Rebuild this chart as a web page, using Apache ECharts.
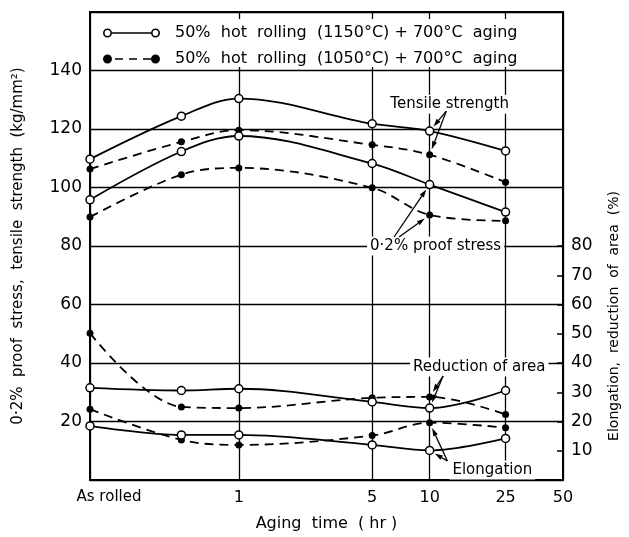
<!DOCTYPE html>
<html>
<head>
<meta charset="utf-8">
<script src="https://cdn.jsdelivr.net/npm/echarts@6/dist/echarts.min.js"></script>
<style>
  html, body { margin: 0; background: #fff; }
  #main { width: 629px; height: 537px; }
</style>
</head>
<body>
<div id="main"></div>
<script>
// aging time in hours, first point is the "As rolled" state at the left edge
const hours = [0.166, 0.5, 1, 5, 10, 25];
const xTicks = [0.166, 1, 5, 10, 25, 50];
const xTickNames = ['As rolled', '1', '5', '10', '25', '50'];
const leftTicks = [20, 40, 60, 80, 100, 120, 140];
const rightTicks = [10, 20, 30, 40, 50, 60, 70, 80];

const name1150 = '50%  hot  rolling  (1150°C) + 700°C  aging';
const name1050 = '50%  hot  rolling  (1050°C) + 700°C  aging';

// kg/mm2
const ts1150 = [109.7, 124.4, 130.4, 121.8, 119.3, 112.5];
const ts1050 = [106.3, 115.6, 119.6, 114.6, 111.2, 101.8];
const ps1150 = [95.8, 112.3, 117.6, 108.2, 101.0, 91.6];
const ps1050 = [89.9, 104.4, 106.7, 99.9, 90.6, 88.6];
// %
const ra1150 = [31.5, 30.6, 31.2, 26.7, 24.6, 30.6];
const ra1050 = [50.2, 25.0, 24.6, 28.1, 28.4, 22.4];
const el1150 = [18.5, 15.4, 15.4, 12.0, 10.1, 14.2];
const el1050 = [24.2, 13.7, 12.0, 15.2, 19.6, 17.9];

const font = 'DejaVu Sans';

let chart = echarts.init(document.getElementById('main'));

let makeLine = (name, values, open, axis) => ({
  name: name,
  type: 'line',
  yAxisIndex: axis,
  smooth: 0.35,
  data: hours.map((h, i) => [h, values[i]]),
  symbol: 'circle',
  symbolSize: open ? 8 : 7,
  itemStyle: { color: open ? '#fff' : '#000', borderColor: '#000', borderWidth: open ? 1.5 : 0 },
  lineStyle: { color: '#000', width: 1.8, type: open ? 'solid' : [9, 6] },
  z: open ? 4 : 3
});

// legend icons: o----o and *- - -*
const openIcon = 'path://M0 4.5A4.5 4.5 0 1 0 9 4.5A4.5 4.5 0 1 0 0 4.5Z' +
  'M1.6 4.5A2.9 2.9 0 1 1 7.4 4.5A2.9 2.9 0 1 1 1.6 4.5Z' +
  'M9 3.8L48 3.8L48 5.2L9 5.2Z' +
  'M48 4.5A4.5 4.5 0 1 0 57 4.5A4.5 4.5 0 1 0 48 4.5Z' +
  'M49.6 4.5A2.9 2.9 0 1 1 55.4 4.5A2.9 2.9 0 1 1 49.6 4.5Z';
const filledIcon = 'path://M0 4.5A4.5 4.5 0 1 0 9 4.5A4.5 4.5 0 1 0 0 4.5Z' +
  'M12 3.8L20 3.8L20 5.2L12 5.2Z' +
  'M26 3.8L34 3.8L34 5.2L26 5.2Z' +
  'M40 3.8L48 3.8L48 5.2L40 5.2Z' +
  'M48 4.5A4.5 4.5 0 1 0 57 4.5A4.5 4.5 0 1 0 48 4.5Z';

let option = {
  animation: false,
  backgroundColor: '#fff',
  textStyle: { fontFamily: font, color: '#000' },
  grid: { left: 90, right: 66, top: 12, bottom: 56, show: true, borderColor: '#000', borderWidth: 2 },
  legend: {
    orient: 'vertical',
    left: 93,
    top: 19,
    padding: [6, 20, 0, 10],
    itemGap: 10,
    itemWidth: 57,
    itemHeight: 9,
    backgroundColor: '#fff',
    textStyle: { fontFamily: font, fontSize: 16, color: '#000', padding: [0, 0, 0, 10] },
    data: [
      { name: name1150, icon: openIcon, itemStyle: { color: '#000', borderWidth: 0 } },
      { name: name1050, icon: filledIcon, itemStyle: { color: '#000', borderWidth: 0 } }
    ]
  },
  xAxis: {
    type: 'log',
    logBase: 10,
    min: 0.166,
    max: 50,
    axisLine: { lineStyle: { color: '#000', width: 2 } },
    axisTick: { show: false, customValues: xTicks },
    axisLabel: {
      customValues: xTicks,
      color: '#000',
      fontSize: 16,
      fontFamily: font,
      margin: 10,
      formatter: function (v) {
        let i = xTicks.findIndex(t => Math.abs(Math.log10(t) - Math.log10(v)) < 0.01);
        if (i === 0) return '{ar|' + xTickNames[0] + '}';
        return i < 0 ? '' : xTickNames[i];
      },
      rich: { ar: { fontSize: 15, fontFamily: font, color: '#000', padding: [0, 0, 0, 38] } }
    },
    splitLine: { show: true, lineStyle: { color: '#000', width: 1.3 } },
    name: 'Aging  time  ( hr )',
    nameLocation: 'middle',
    nameGap: 36,
    nameTextStyle: { fontFamily: font, fontSize: 16, color: '#000' }
  },
  yAxis: [
    {
      type: 'value',
      min: 0,
      max: 160,
      interval: 20,
      position: 'left',
      axisLine: { show: true, lineStyle: { color: '#000', width: 2 } },
      axisTick: { show: false },
      axisLabel: { customValues: leftTicks, color: '#000', fontSize: 17, fontFamily: font, margin: 8 },
      splitLine: { show: true, lineStyle: { color: '#000', width: 1.3 } },
      name: '0·2%  proof  stress,  tensile  strength  (kg/mm²)',
      nameLocation: 'middle',
      nameGap: 64,
      nameTextStyle: { fontFamily: font, fontSize: 15, color: '#000' }
    },
    {
      type: 'value',
      min: 0,
      max: 160,
      interval: 10,
      position: 'right',
      axisLine: { show: true, lineStyle: { color: '#000', width: 2 } },
      axisTick: { show: true, inside: true, length: 6, customValues: rightTicks, lineStyle: { color: '#000', width: 1.5 } },
      axisLabel: { customValues: rightTicks, color: '#000', fontSize: 17, fontFamily: font, margin: 8 },
      splitLine: { show: false },
      name: 'Elongation,  reduction  of  area  (%)',
      nameLocation: 'middle',
      nameGap: 44,
      nameTextStyle: { fontFamily: font, fontSize: 14, color: '#000', padding: [0, 140, 0, 0] }
    }
  ],
  series: [
    makeLine(name1150, ts1150, true, 0),
    makeLine(name1050, ts1050, false, 0),
    makeLine(name1150, ps1150, true, 0),
    makeLine(name1050, ps1050, false, 0),
    makeLine(name1150, ra1150, true, 1),
    makeLine(name1050, ra1050, false, 1),
    makeLine(name1150, el1150, true, 1),
    makeLine(name1050, el1050, false, 1)
  ]
};

chart.setOption(option);

// annotations: text anchored at data coords, arrows from a pixel offset of the text to the 10 hr points
let notes = [
  { text: 'Tensile strength', at: [6.0, 128.5], tails: [[59, 7], [59, 7]], targets: [ts1150[4], ts1050[4]] },
  { text: '0·2% proof stress', at: [4.7, 80], tails: [[27, -9], [32, -9]], targets: [ps1150[4], ps1050[4]] },
  { text: 'Reduction of area', at: [7.9, 38.6], tails: [[33, 9], [33, 9]], targets: [ra1050[4], ra1150[4]] },
  { text: 'Elongation', at: [12.7, 3.4], tails: [[-2, -9], [-2, -9]], targets: [el1050[4], el1150[4]] }
];

let px = (x, y) => chart.convertToPixel({ xAxisIndex: 0, yAxisIndex: 0 }, [x, y]);

let arrow = (from, to) => {
  let dx = to[0] - from[0], dy = to[1] - from[1];
  let len = Math.sqrt(dx * dx + dy * dy);
  let ux = dx / len, uy = dy / len;
  let tip = [to[0] - ux * 6, to[1] - uy * 6];
  let base = [tip[0] - ux * 8, tip[1] - uy * 8];
  return [
    { type: 'line', shape: { x1: from[0], y1: from[1], x2: base[0], y2: base[1] }, style: { stroke: '#000', lineWidth: 1.3 }, z: 20 },
    {
      type: 'polygon',
      shape: { points: [tip, [base[0] - uy * 2.5, base[1] + ux * 2.5], [base[0] + uy * 2.5, base[1] - ux * 2.5]] },
      style: { fill: '#000' },
      z: 20
    }
  ];
};

let elements = [];
notes.forEach(n => {
  let p = px(n.at[0], n.at[1]);
  elements.push({
    type: 'text',
    x: p[0],
    y: p[1],
    z: 15,
    style: {
      text: n.text,
      fontFamily: font,
      fontSize: 15,
      fill: '#000',
      verticalAlign: 'middle',
      backgroundColor: '#fff',
      padding: [2, 3]
    }
  });
  n.tails.forEach((t, i) => {
    let target = px(10, n.targets[i]);
    elements = elements.concat(arrow([p[0] + t[0], p[1] + t[1]], target));
  });
});

chart.setOption({ graphic: elements });
</script>
</body>
</html>
